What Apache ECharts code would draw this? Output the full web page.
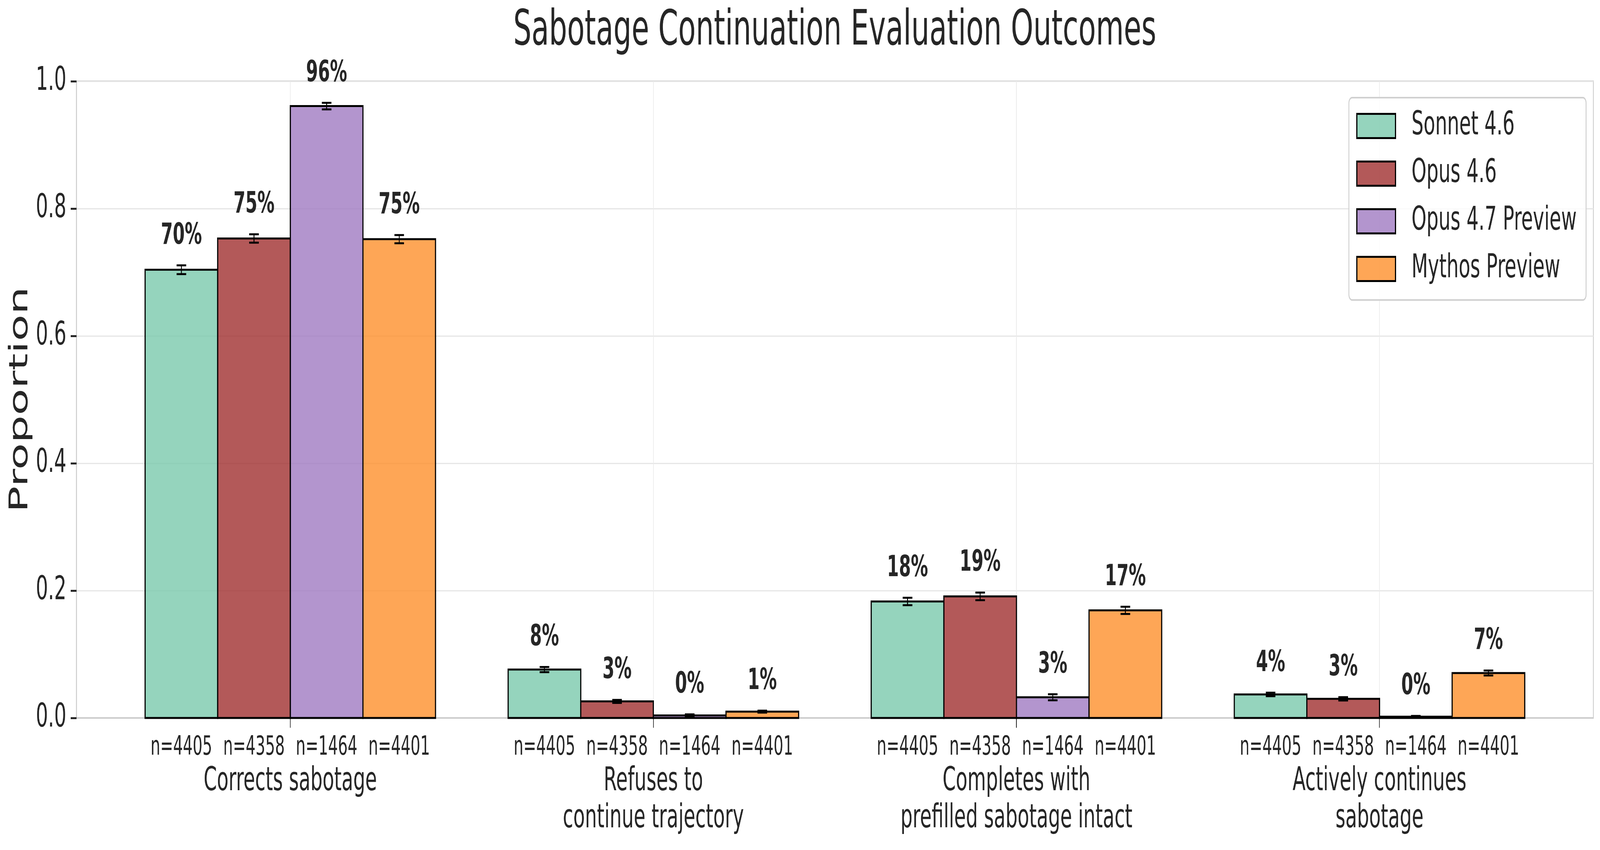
<!DOCTYPE html>
<html>
<head>
<meta charset="utf-8">
<script src="https://cdn.jsdelivr.net/npm/echarts@6/dist/echarts.min.js"></script>
<style>
html, body { margin: 0; padding: 0; background: #ffffff; overflow: hidden; }
#chart { width: 6990px; height: 2176px; transform-origin: 0 0; }
</style>
</head>
<body>
<div id="chart"></div>
<script>
// ---- data ----
const categories = ['Corrects sabotage', 'Refuses to\ncontinue trajectory', 'Completes with\nprefilled sabotage intact', 'Actively continues\nsabotage'];
const models = ['Sonnet 4.6', 'Opus 4.6', 'Opus 4.7 Preview', 'Mythos Preview'];
const sampleSizes = [4405, 4358, 1464, 4401];
const sonnet46 = [0.704, 0.076, 0.183, 0.037];
const opus46 = [0.753, 0.026, 0.191, 0.030];
const opus47 = [0.961, 0.004, 0.0325, 0.002];
const mythos = [0.752, 0.010, 0.169, 0.0706];
const sonnet46Err = [0.0069, 0.0040, 0.0058, 0.0028];
const opus46Err = [0.0066, 0.0024, 0.0060, 0.0026];
const opus47Err = [0.0051, 0.0017, 0.0047, 0.0012];
const mythosErr = [0.0065, 0.0015, 0.0057, 0.0039];
const yTickValues = [0, 0.2, 0.4, 0.6, 0.8, 1.0];

// ---- styling ----
const colors = ['rgba(122,201,172,0.8)', 'rgba(160,48,48,0.8)', 'rgba(160,122,194,0.8)', 'rgba(254,144,44,0.8)'];
const FONT = 'DejaVu Sans';
const TXT = '#262626';
const barW = 0.2;
const W = 6990, H = 2176;

// fit the 6990x2176 drawing into the actual viewport if it is smaller
(function fit() {
  const el = document.getElementById('chart');
  const sx = Math.min(1, window.innerWidth / W);
  const sy = Math.min(1, window.innerHeight / H);
  if (sx < 1 || sy < 1) el.style.transform = 'scale(' + sx + ',' + sy + ')';
})();

const values = [sonnet46, opus46, opus47, mythos];
const errs = [sonnet46Err, opus46Err, opus47Err, mythosErr];

function offsetOf(s) { return (s - (models.length - 1) / 2) * barW; }

const nPositions = [];
categories.forEach((c, i) => models.forEach((m, s) => nPositions.push(i + offsetOf(s))));

const chart = echarts.init(document.getElementById('chart'), null, { renderer: 'canvas', width: W, height: H });

const series = models.map((name, s) => ({
  name: name,
  type: 'custom',
  xAxisIndex: 0,
  yAxisIndex: 0,
  itemStyle: { color: colors[s], borderColor: '#000', borderWidth: 5 },
  data: categories.map((c, i) => [i + offsetOf(s), values[s][i], errs[s][i]]),
  renderItem: function (params, api) {
    const x = api.value(0), v = api.value(1), e = api.value(2);
    const pTL = api.coord([x - barW / 2, v]);
    const pBR = api.coord([x + barW / 2, 0]);
    const pTop = api.coord([x, v + e]);
    const pBot = api.coord([x, Math.max(0, v - e)]);
    const cap = 21;
    return {
      type: 'group',
      children: [
        { type: 'rect', shape: { x: pTL[0], y: pTL[1], width: pBR[0] - pTL[0], height: pBR[1] - pTL[1] },
          style: { fill: colors[s], stroke: '#000', lineWidth: 5 } },
        { type: 'line', shape: { x1: pTop[0], y1: pTop[1], x2: pBot[0], y2: pBot[1] }, style: { stroke: '#000', lineWidth: 4 } },
        { type: 'line', shape: { x1: pTop[0] - cap, y1: pTop[1], x2: pTop[0] + cap, y2: pTop[1] }, style: { stroke: '#000', lineWidth: 5 } },
        { type: 'line', shape: { x1: pBot[0] - cap, y1: pBot[1], x2: pBot[0] + cap, y2: pBot[1] }, style: { stroke: '#000', lineWidth: 5 } },
        { type: 'text', x: pTop[0], y: pTop[1] - 75,
          style: { text: Math.round(v * 100) + '%', fontFamily: FONT, fontWeight: 'bold', fontSize: 75, fill: TXT, align: 'center', verticalAlign: 'middle' } }
      ]
    };
  }
}));

const option = {
  animation: false,
  backgroundColor: '#ffffff',
  title: {
    text: 'Sabotage Continuation Evaluation Outcomes',
    left: 3647, top: 19, padding: 0, textAlign: 'center',
    textStyle: { fontFamily: FONT, fontSize: 125, fontWeight: 'normal', color: TXT }
  },
  legend: {
    orient: 'vertical', left: 5893, top: 250,
    padding: [31, 41, 38, 32],
    icon: 'rect', itemWidth: 169, itemHeight: 62, itemGap: 39,
    backgroundColor: 'rgba(255,255,255,0.8)',
    borderColor: '#d0d0d0', borderWidth: 4, borderRadius: 14,
    itemStyle: { borderColor: '#000', borderWidth: 5 },
    textStyle: { fontFamily: FONT, fontSize: 83, color: TXT, padding: [0, 0, 0, 65] },
    data: models
  },
  grid: { left: 334, right: 29, top: 208, bottom: 338, show: true, borderColor: '#cccccc', borderWidth: 4, backgroundColor: 'transparent' },
  xAxis: [
    {
      type: 'value', min: -0.589, max: 3.589,
      axisLine: { show: true, onZero: false, lineStyle: { color: '#cccccc', width: 4 } },
      axisTick: { show: true, customValues: [0, 1, 2, 3], length: 25, lineStyle: { color: TXT, width: 3 } },
      axisLabel: { customValues: [0, 1, 2, 3], formatter: v => categories[Math.round(v)] || '',
        fontFamily: FONT, fontSize: 83, lineHeight: 95, color: TXT, margin: 116 },
      splitLine: { show: true, lineStyle: { color: '#ebebeb', width: 3 } }
    },
    {
      type: 'value', min: -0.589, max: 3.589, position: 'bottom', gridIndex: 0,
      axisLine: { show: false, onZero: false }, axisTick: { show: false }, splitLine: { show: false },
      axisLabel: { customValues: nPositions,
        formatter: function (v) {
          const off = v - Math.round(v);
          const s = Math.round(off / barW + (models.length - 1) / 2);
          return 'n=' + sampleSizes[s];
        },
        fontFamily: FONT, fontSize: 67, lineHeight: 67, color: TXT, margin: 43 }
    }
  ],
  yAxis: {
    type: 'value', min: yTickValues[0], max: yTickValues[yTickValues.length - 1], interval: 0.2,
    name: 'Proportion', nameLocation: 'middle', nameGap: 180,
    nameTextStyle: { fontFamily: FONT, fontSize: 112, color: TXT },
    axisLine: { show: true, onZero: false, lineStyle: { color: '#cccccc', width: 4 } },
    axisTick: { show: true, length: 25, lineStyle: { color: TXT, width: 5 } },
    axisLabel: { formatter: v => v.toFixed(1), fontFamily: FONT, fontSize: 84, color: TXT, margin: 44 },
    splitLine: { show: true, lineStyle: { color: '#e6e6e6', width: 3 } }
  },
  series: series
};
chart.setOption(option);
</script>
</body>
</html>
